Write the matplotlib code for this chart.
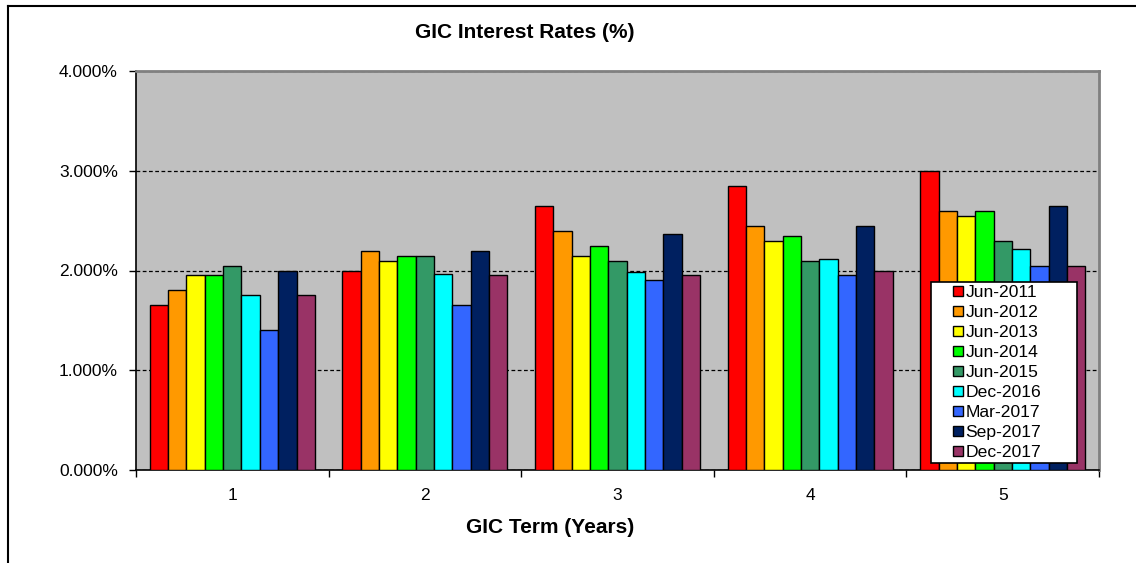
import matplotlib
matplotlib.use("Agg")
import matplotlib.pyplot as plt
import numpy as np
from matplotlib.lines import Line2D
from matplotlib.patches import Rectangle
from matplotlib.container import BarContainer
from matplotlib.legend_handler import HandlerPatch, update_from_first_child
from matplotlib.ticker import FuncFormatter, MultipleLocator

plt.rcParams['font.family'] = ['Liberation Sans', 'DejaVu Sans']

terms = ["1", "2", "3", "4", "5"]
series_names = ["Jun-2011", "Jun-2012", "Jun-2013", "Jun-2014", "Jun-2015",
                "Dec-2016", "Mar-2017", "Sep-2017", "Dec-2017"]
jun_2011 = [1.65, 2.00, 2.65, 2.85, 3.00]
jun_2012 = [1.80, 2.20, 2.40, 2.45, 2.60]
jun_2013 = [1.95, 2.10, 2.15, 2.30, 2.55]
jun_2014 = [1.95, 2.15, 2.25, 2.35, 2.60]
jun_2015 = [2.05, 2.15, 2.10, 2.10, 2.30]
dec_2016 = [1.75, 1.96, 1.98, 2.12, 2.22]
mar_2017 = [1.40, 1.65, 1.90, 1.95, 2.05]
sep_2017 = [2.00, 2.20, 2.37, 2.45, 2.65]
dec_2017 = [1.75, 1.95, 1.95, 2.00, 2.05]
values = [jun_2011, jun_2012, jun_2013, jun_2014, jun_2015,
          dec_2016, mar_2017, sep_2017, dec_2017]
colors = ["#FF0000", "#FF9900", "#FFFF00", "#00FF00", "#339966",
          "#00FFFF", "#3366FF", "#002060", "#993366"]

fig = plt.figure(figsize=(11.36, 5.63), dpi=100)
ax = fig.add_axes([136/1136, 1-470/563, (1099-136)/1136, (470-71)/563])
ax.set_facecolor("#C0C0C0")

n = len(values)
w = 1/10.5
x = np.arange(len(terms))
for i, (vals, c, name) in enumerate(zip(values, colors, series_names)):
    off = (i - (n-1)/2) * w
    ax.bar(x + off, vals, width=w, color=c, edgecolor="black",
           linewidth=1.0, label=name, zorder=3)

ax.set_xlim(-0.5, len(terms) - 0.5)
ax.set_ylim(0, 4)
ax.yaxis.set_major_locator(MultipleLocator(1))
ax.yaxis.set_major_formatter(FuncFormatter(lambda v, p: f"{v:.3f}%"))
ax.set_xticks(x)
ax.set_xticklabels(terms)
ax.set_xticks(np.arange(-0.5, len(terms)), minor=True)
ax.tick_params(axis='x', which='major', length=0, labelsize=12.5, pad=13)
ax.tick_params(axis='x', which='minor', length=5, width=1, direction='out')
ax.tick_params(axis='y', which='major', length=5, width=1, labelsize=12.5,
               direction='out', pad=8)
ax.grid(axis='y', color='black', linestyle=(0, (3, 2)), linewidth=0.9, zorder=1)
for s in ['top', 'right']:
    ax.spines[s].set_color('#808080')
    ax.spines[s].set_linewidth(2)
for s in ['left', 'bottom']:
    ax.spines[s].set_color('black')
    ax.spines[s].set_linewidth(1.2)

ax.set_xlabel("GIC Term (Years)", fontsize=15, fontweight='bold', va='top')
ax.xaxis.set_label_coords((550-136)/963, -(518-470)/399)
fig.text(525/1136, 1-33/563, "GIC Interest Rates (%)", fontsize=15,
         fontweight='bold', ha='center', va='center')


def square_patch(legend, orig_handle, xdescent, ydescent, width, height, fontsize):
    sq = 10 * 72 / 100
    return Rectangle((-xdescent + width - sq, -ydescent + (height - sq) / 2), sq, sq)


leg = ax.legend(loc='upper left',
                bbox_to_anchor=((931-136)/963, (470-282)/399, 146/963, 0),
                mode='expand',
                frameon=True, fancybox=False, edgecolor='black', facecolor='white',
                framealpha=1, fontsize=12.6, handlelength=1.65, handleheight=0.7,
                handletextpad=0.15, labelspacing=0.27, borderpad=0.17,
                borderaxespad=0,
                handler_map={BarContainer: HandlerPatch(patch_func=square_patch,
                                                        update_func=update_from_first_child)})
leg.get_frame().set_linewidth(1.2)
leg.set_zorder(5)

fig.add_artist(Line2D([8/1136, 8/1136], [0, 1-6/563], color='black', linewidth=1.5))
fig.add_artist(Line2D([8/1136, 1], [1-6/563, 1-6/563], color='black', linewidth=1.5))

fig.savefig("out.png", dpi=100)
